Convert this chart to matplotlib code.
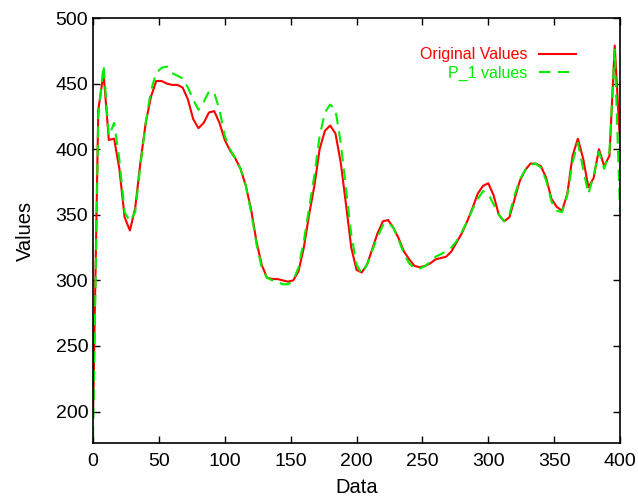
import numpy as np
import matplotlib
import matplotlib.pyplot as plt

matplotlib.use("Agg")

# sample index (every 4 steps)
data_x = np.arange(0, 404, 4)

original_values = [
    195, 430, 458, 407, 408, 385, 348, 338, 355, 390,
    420, 440, 452, 452, 450, 449, 449, 447, 438, 423,
    416, 420, 428, 429, 420, 407, 399, 393, 385, 372,
    354, 330, 312, 302, 301, 301, 300, 299, 300, 307,
    325, 350, 372, 400, 414, 418, 412, 390, 358, 325,
    308, 306, 312, 324, 336, 345, 346, 340, 332, 322,
    316, 311, 310, 311, 313, 316, 317, 318, 322, 329,
    336, 345, 355, 366, 372, 374, 365, 350, 345, 348,
    362, 376, 384, 389, 389, 387, 378, 362, 356, 353,
    366, 395, 408, 393, 371, 378, 400, 387, 395, 479,
    405,
]

p1_values = [
    180, 425, 464, 410, 420, 392, 352, 345, 352, 388,
    420, 445, 458, 462, 463, 458, 456, 454, 447, 438,
    430, 436, 444, 443, 430, 410, 400, 393, 385, 372,
    352, 328, 310, 302, 300, 299, 297, 297, 300, 310,
    330, 355, 380, 410, 428, 434, 430, 405, 370, 335,
    312, 305, 312, 323, 333, 342, 344, 340, 331, 320,
    313, 309, 309, 311, 314, 318, 320, 322, 325, 330,
    337, 345, 354, 362, 368, 366, 358, 350, 345, 350,
    365, 377, 384, 388, 389, 386, 376, 360, 353, 352,
    365, 390, 405, 385, 366, 380, 398, 385, 398, 476,
    352,
]

plt.rcParams['font.family'] = ['Liberation Sans', 'DejaVu Sans']

fig = plt.figure(figsize=(6.38, 5.0), dpi=100)
ax = fig.add_axes([0.1458, 0.114, 0.826, 0.85])

ax.plot(data_x, original_values, color='#ff0000', lw=1.5, label='Original Values')
ax.plot(data_x, p1_values, color='#00ee00', lw=1.5, dashes=(5.5, 3.5), label='P_1 values')

ax.set_xlim(0, 400)
ax.set_ylim(176, 500)
ax.set_xticks(np.arange(0, 401, 50))
ax.set_yticks(np.arange(200, 501, 50))
ax.tick_params(direction='in', length=5, width=1, top=True, right=True, labelsize=14)
ax.tick_params(axis='x', pad=7)
ax.tick_params(axis='y', pad=3.5)
for s in ax.spines.values():
    s.set_linewidth(1.2)

ax.set_xlabel('Data', fontsize=14.5, labelpad=6)
ax.set_ylabel('Values', fontsize=14.5, labelpad=15)

ax.legend(loc='upper right', bbox_to_anchor=(0.943, 0.965), frameon=False,
          markerfirst=False, labelcolor='linecolor', fontsize=11.5,
          handlelength=2.3, handletextpad=0.7, labelspacing=0.2)

plt.savefig('out.png', dpi=100)
